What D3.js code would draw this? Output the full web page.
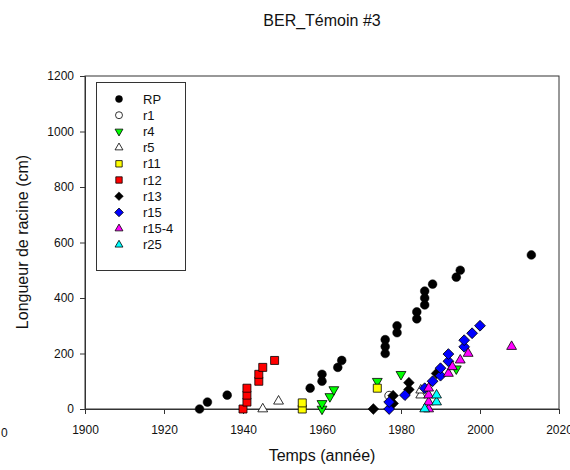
<!DOCTYPE html>
<html><head><meta charset="utf-8">
<script src="https://cdn.jsdelivr.net/npm/d3@7"></script>
<style>
html,body{margin:0;padding:0;background:#fff;}
text{font-family:"Liberation Sans",Arial,sans-serif;fill:#111;}
</style></head>
<body>
<svg id="chart" width="570" height="470"></svg>
<script>
// ---- data: [year, length cm] ----
const RP    = [[1929,0],[1931,25],[1936,50],[1957,75],[1960,100],[1960,125],[1964,150],[1965,175],
               [1976,200],[1976,225],[1976,250],[1979,275],[1979,300],[1984,325],[1984,350],
               [1986,375],[1986,400],[1986,425],[1988,450],[1994,475],[1995,500],[2013,555]];
const r1    = [[1977,48]];
const r4    = [[1960,0],[1960,20],[1962,45],[1963,70],[1974,100],[1980,125],[1994,145]];
const r5    = [[1945,0],[1949,28],[1985,50],[1985,68]];
const r11   = [[1955,0],[1955,22],[1974,75]];
const r12   = [[1940,0],[1941,25],[1941,50],[1941,75],[1944,100],[1944,125],[1945,150],[1948,175]];
const r13   = [[1973,0],[1978,20],[1978,48],[1982,70],[1982,95],[1989,128]];
const r15   = [[1977,0],[1977,25],[1981,50],[1986,75],[1988,100],[1990,120],[1990,147],[1992,172],
               [1992,198],[1996,224],[1996,248],[1998,273],[2000,300]];
const r15_4 = [[1987,0],[1987,25],[1987,50],[1987,75],[1992,128],[1993,152],[1995,176],[1997,200],[2008,225]];
const r25   = [[1986,0],[1989,25],[1989,50]];

const seriesNames = ["RP","r1","r4","r5","r11","r12","r13","r15","r15-4","r25"];
const seriesData  = [RP, r1, r4, r5, r11, r12, r13, r15, r15_4, r25];
const xTicks = [1900,1920,1940,1960,1980,2000,2020];
const yTicks = [0,200,400,600,800,1000,1200];
const titleText = "BER_Témoin #3";
const xLabel = "Temps (année)";
const yLabel = "Longueur de racine (cm)";

// ---- styles ----
const styles = {
  "RP":   {shape:"circle",  fill:"#000000"},
  "r1":   {shape:"circle",  fill:"#ffffff"},
  "r4":   {shape:"tridown", fill:"#00ff00"},
  "r5":   {shape:"triup",   fill:"#ffffff"},
  "r11":  {shape:"square",  fill:"#ffff00"},
  "r12":  {shape:"square",  fill:"#ff0000"},
  "r13":  {shape:"diamond", fill:"#000000"},
  "r15":  {shape:"diamond", fill:"#0000ff"},
  "r15-4":{shape:"triup",   fill:"#ff00ff"},
  "r25":  {shape:"triup",   fill:"#00ffff"}
};

const svg = d3.select("#chart");
const x = d3.scaleLinear().domain([1900,2020]).range([85,559]);
const y = d3.scaleLinear().domain([0,1200]).range([409,76]);

function symbolPath(shape, scale){
  const s = scale||1;
  if(shape==="circle") return {d:d3.symbol(d3.symbolCircle, 60*s*s)(), rot:0};
  if(shape==="square") return {d:d3.symbol(d3.symbolSquare, 64*s*s)(), rot:0};
  if(shape==="diamond") return {d:d3.symbol(d3.symbolSquare, 58*s*s)(), rot:45};
  if(shape==="triup") return {d:d3.symbol(d3.symbolTriangle, 42*s*s)(), rot:0};
  if(shape==="tridown") return {d:d3.symbol(d3.symbolTriangle, 42*s*s)(), rot:180};
}

// frame
svg.append("rect").attr("x",x(1900)).attr("y",y(1200))
  .attr("width",x(2020)-x(1900)).attr("height",y(0)-y(1200))
  .attr("fill","none").attr("stroke","#333").attr("stroke-width",1);

// axes
const xAxis = svg.append("g").attr("transform",`translate(0,${y(0)})`)
  .call(d3.axisBottom(x).tickValues(xTicks).tickFormat(d3.format("d")).tickSize(5).tickPadding(11));
const yAxis = svg.append("g").attr("transform",`translate(${x(1900)},0)`)
  .call(d3.axisLeft(y).tickValues(yTicks).tickFormat(d3.format("d")).tickSize(5).tickPadding(6));
[xAxis,yAxis].forEach(a=>{
  a.selectAll("path").attr("stroke","#333");
  a.selectAll("line").attr("stroke","#333");
  a.selectAll("text").style("font-size","12px").attr("fill","#111")
   .style("font-family","'Liberation Sans',Arial,sans-serif");
});

// data points
seriesNames.forEach((name,i)=>{
  const st = styles[name];
  const sp = symbolPath(st.shape,1);
  svg.append("g").selectAll("path").data(seriesData[i]).join("path")
    .attr("d",sp.d)
    .attr("transform",d=>`translate(${x(d[0])},${y(d[1])}) rotate(${sp.rot})`)
    .attr("fill",st.fill)
    .attr("stroke", "#000")
    .attr("stroke-width", st.fill==="#000000"?0.5:0.8);
});

// legend
const lg = svg.append("g");
lg.append("rect").attr("x",96.5).attr("y",82.5).attr("width",89).attr("height",188)
  .attr("fill","#fff").attr("stroke","#333").attr("stroke-width",1);
seriesNames.forEach((name,i)=>{
  const st = styles[name];
  const sp = symbolPath(st.shape,0.8);
  const yy = 99 + i*16.2;
  lg.append("path").attr("d",sp.d)
    .attr("transform",`translate(119,${yy}) rotate(${sp.rot})`)
    .attr("fill",st.fill).attr("stroke","#000").attr("stroke-width",st.fill==="#000000"?0.5:0.8);
  lg.append("text").attr("x",143).attr("y",yy+4.5).text(name).style("font-size","13px");
});

// titles
svg.append("text").attr("x",322).attr("y",26).attr("text-anchor","middle")
  .style("font-size","16px").text(titleText);
svg.append("text").attr("x",322).attr("y",461).attr("text-anchor","middle")
  .style("font-size","16px").text(xLabel);
svg.append("text").attr("transform","translate(28,242) rotate(-90)").attr("text-anchor","middle")
  .style("font-size","16px").text(yLabel);
svg.append("text").attr("x",1).attr("y",437).style("font-size","12px").text("0");
</script>
</body></html>
